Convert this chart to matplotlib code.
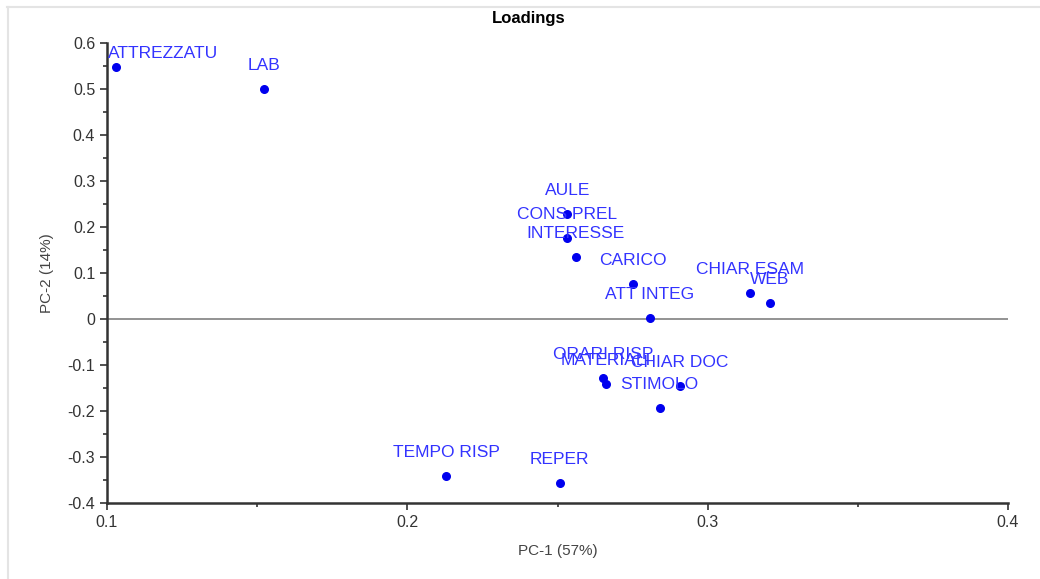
import matplotlib.pyplot as plt
from matplotlib.lines import Line2D
from matplotlib.ticker import MultipleLocator

names = ["ATTREZZATU", "LAB", "AULE", "CONS PREL", "INTERESSE", "CARICO",
         "ATT INTEG", "CHIAR ESAM", "WEB", "ORARI RISP", "MATERIALI",
         "CHIAR DOC", "STIMOLO", "TEMPO RISP", "REPER"]
pc1 = [0.103, 0.1523, 0.2533, 0.2533, 0.256, 0.275,
       0.2807, 0.314, 0.3207, 0.2653, 0.266,
       0.2907, 0.284, 0.213, 0.2507]
pc2 = [0.548, 0.500, 0.228, 0.176, 0.135, 0.076,
       0.002, 0.0565, 0.035, -0.128, -0.141,
       -0.146, -0.1935, -0.341, -0.3565]

plt.rcParams["font.family"] = ["Liberation Sans", "DejaVu Sans"]

fig = plt.figure(figsize=(10.4, 5.79), dpi=100)
ax = fig.add_axes([107 / 1040, 1 - 503 / 579, 901 / 1040, 460 / 579])

ax.axhline(0, color="#808080", lw=1.2, zorder=1)
ax.scatter(pc1, pc2, s=30, color="#0000ee", zorder=3)
for n, x, y in zip(names, pc1, pc2):
    if n == "ATTREZZATU":
        ax.annotate(n, (x, y), xytext=(-6, 10), textcoords="offset points",
                    ha="left", va="center", color="#3333ff", fontsize=12.5)
    else:
        ax.annotate(n, (x, y), xytext=(0, 17), textcoords="offset points",
                    ha="center", va="center", color="#3333ff", fontsize=12.5)

ax.set_xlim(0.1, 0.4)
ax.set_ylim(-0.4, 0.6)
ax.xaxis.set_major_locator(MultipleLocator(0.1))
ax.xaxis.set_minor_locator(MultipleLocator(0.05))
ax.yaxis.set_major_locator(MultipleLocator(0.1))
ax.yaxis.set_minor_locator(MultipleLocator(0.05))
ax.xaxis.set_major_formatter(plt.FuncFormatter(lambda v, p: f"{v:g}"))
ax.yaxis.set_major_formatter(plt.FuncFormatter(lambda v, p: f"{v:g}"))

for s in ["top", "right"]:
    ax.spines[s].set_visible(False)
for s in ["left", "bottom"]:
    ax.spines[s].set_linewidth(1.8)
    ax.spines[s].set_color("#333333")
ax.tick_params(which="major", length=5, width=1.2, color="#333333",
               labelsize=11.5, labelcolor="#333333")
ax.tick_params(which="minor", length=3, width=1.2, color="#333333")

ax.set_xlabel("PC-1 (57%)", fontsize=11, color="#444444", labelpad=10)
ax.set_ylabel("PC-2 (14%)", fontsize=11, color="#444444", labelpad=10)
fig.text(529 / 1040, 1 - 18 / 579, "Loadings", ha="center", va="center",
         fontsize=12, fontweight="bold")

# thin frame on the top and left edges
fig.add_artist(Line2D([7 / 1040, 1], [1 - 7 / 579] * 2, color="#e4e4e4", lw=1.5))
fig.add_artist(Line2D([8 / 1040] * 2, [0, 1 - 7 / 579], color="#e4e4e4", lw=1.5))

fig.savefig("out.png", dpi=100)
